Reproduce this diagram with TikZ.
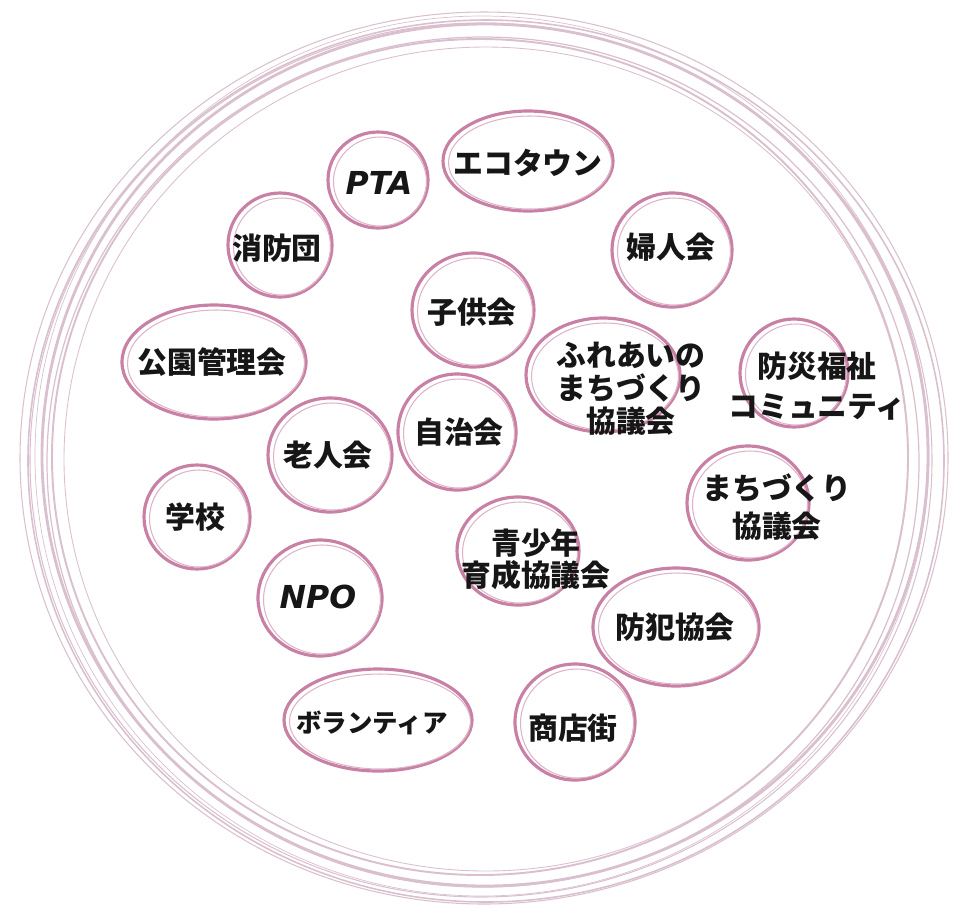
\documentclass[tikz,border=0pt]{standalone}
\usepackage{fontspec}
\setmainfont{Noto Sans CJK JP}
\newfontfamily\latinfont{DejaVu Sans}
\definecolor{ringpink}{RGB}{218,192,206}
\definecolor{bubblepink}{RGB}{200,128,164}
\definecolor{textblack}{RGB}{22,22,22}

\begin{document}
\begin{tikzpicture}[x=0.2mm,y=-0.2mm,
    ring/.style={draw=ringpink, line width=#1},
    bubble/.style={draw=bubblepink, line width=1.8pt},
    sketch/.style={draw=bubblepink!60, line width=0.6pt},
    tag/.style={text=textblack, font=\fontsize{17}{19}\selectfont\bfseries, align=center, inner sep=0pt}]
  \useasboundingbox (0,0) rectangle (964,917);
  % outer rings
  \foreach \cx/\cy/\rx/\ry/\w in {484/458/464/446/0.6pt, 486/461/458/441/0.9pt,
      481/460/451/437/0.6pt, 485/455/443/431/1.6pt, 483/462/436/425/0.7pt,
      480/457/428/418/1.1pt, 486/459/422/412/0.5pt, 482/456/447/440/0.4pt}
    \draw[ring=\w] (\cx,\cy) ellipse [x radius=\rx, y radius=\ry];
  % bubbles
  \foreach \cx/\cy/\rx/\ry in {528/161/85/50, 378/180/50/48, 280/245/52/52,
      672/250/60/57, 473/310/61/57, 214/362/92/57, 603/375/77/57,
      794/373/54/54, 457/432/59/58, 330/455/62/57, 197/517/53/52,
      748/503/61/57, 518/551/61/54, 320/598/62/58, 676/627/83/59,
      378/720/94/51, 575/722/60/58}
  {
    \draw[bubble] (\cx,\cy) ellipse [x radius=\rx, y radius=\ry];
    \draw[sketch] (\cx+2,\cy+1.5) ellipse [x radius=\rx-3.5, y radius=\ry-3.5];
  }
  % labels
  \node[tag] (ecotown) at (528,163) {エコタウン};
  \node[tag, font=\fontsize{18}{20}\selectfont\latinfont\bfseries\itshape] (pta) at (379,183) {PTA};
  \node[tag] (shobodan) at (277,248) {消防団};
  \node[tag] (fujinkai) at (671,247) {婦人会};
  \node[tag] (kodomokai) at (472,312) {子供会};
  \node[tag] (koen) at (212,362) {公園管理会};
  \node[tag, font=\fontsize{17}{18.7}\selectfont\bfseries] (fureai) at (631,389) {ふれあいの\\まちづくり\\協議会};
  \node[tag, font=\fontsize{17}{23}\selectfont\bfseries] (bosai) at (817,386) {防災福祉\\コミュニティ};
  \node[tag] (jichikai) at (459,432) {自治会};
  \node[tag] (rojinkai) at (328,455) {老人会};
  \node[tag] (gakko) at (195,517) {学校};
  \node[tag, font=\fontsize{17}{22}\selectfont\bfseries] (machi) at (777,507) {まちづくり\\協議会};
  \node[tag, font=\fontsize{17}{18}\selectfont\bfseries] (seishonen) at (536,559) {青少年\\育成協議会};
  \node[tag, font=\fontsize{18}{20}\selectfont\latinfont\bfseries\itshape] (npo) at (318,597) {NPO};
  \node[tag] (bohan) at (675,627) {防犯協会};
  \node[tag, font=\fontsize{14.5}{16}\selectfont\bfseries] (volunteer) at (372,723) {ボランティア};
  \node[tag] (shotengai) at (573,728) {商店街};
\end{tikzpicture}
\end{document}
